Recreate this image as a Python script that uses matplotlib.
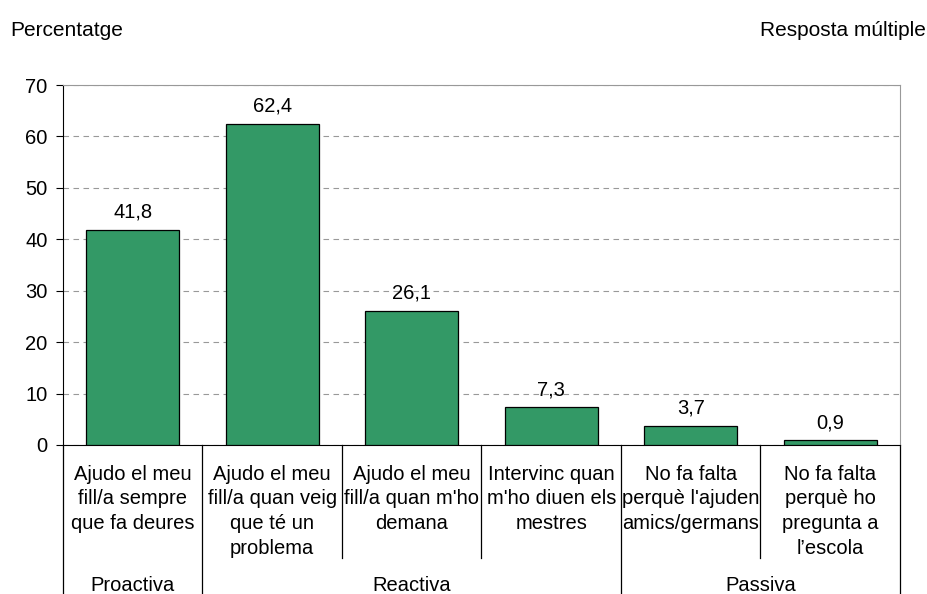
import matplotlib
matplotlib.use('Agg')
import matplotlib.pyplot as plt
import matplotlib.transforms as mtransforms
import numpy as np

plt.rcParams['font.family'] = ['Liberation Sans', 'DejaVu Sans']

CATEGORIES = [
    'Ajudo el meu\nfill/a sempre\nque fa deures',
    'Ajudo el meu\nfill/a quan veig\nque té un\nproblema',
    'Ajudo el meu\nfill/a quan m\'ho\ndemana',
    'Intervinc quan\nm\'ho diuen els\nmestres',
    'No fa falta\nperquè l\'ajuden\namics/germans',
    'No fa falta\nperquè ho\npregunta a\nl’escola',
]
VALUES = [41.8, 62.4, 26.1, 7.3, 3.7, 0.9]
GROUPS = ['Proactiva', 'Reactiva', 'Passiva']
GROUP_SIZES = [1, 3, 2]

BAR_COLOR = '#339966'
FS = 14.5

fig = plt.figure(figsize=(9.28, 5.94), dpi=100)
ax = fig.add_axes([63 / 928, 1 - 445 / 594, (900 - 63) / 928, 360 / 594])

x = np.arange(len(VALUES))
bars = ax.bar(x, VALUES, width=0.67, color=BAR_COLOR, edgecolor='black', linewidth=0.9, zorder=3)
for bar, v in zip(bars, VALUES):
    ax.annotate(f'{v:.1f}'.replace('.', ','), (bar.get_x() + bar.get_width() / 2, v),
                xytext=(0, 6), textcoords='offset points', ha='center', va='bottom', fontsize=FS)

ax.set_xlim(-0.5, len(VALUES) - 0.5)
ax.set_ylim(0, 70)
ax.set_yticks(range(0, 71, 10))
ax.tick_params(axis='y', labelsize=FS, length=5, direction='out', width=0.8, pad=6)
ax.set_xticks([])
ax.yaxis.grid(True, linestyle=(0, (5, 4)), color='#999999', linewidth=0.8, zorder=0)

for s in ['top', 'right']:
    ax.spines[s].set_color('#999999')
ax.spines['left'].set_color('black')
ax.spines['bottom'].set_color('black')

# category labels and separators below the axis
trans = mtransforms.blended_transform_factory(ax.transData, ax.transAxes)
for i, lab in enumerate(CATEGORIES):
    ax.text(i, -0.055, lab, transform=trans, ha='center', va='top', fontsize=FS, linespacing=1.38)

group_edges = np.cumsum([0] + GROUP_SIZES) - 0.5
for k in range(len(VALUES) + 1):
    xe = k - 0.5
    bottom = -0.42 if xe in group_edges else -0.314
    ax.plot([xe, xe], [0, bottom], transform=trans, color='black', linewidth=0.9, clip_on=False)

for g, lo, hi in zip(GROUPS, group_edges[:-1], group_edges[1:]):
    ax.text((lo + hi) / 2, -0.39, g, transform=trans, ha='center', va='center', fontsize=FS)

fig.text(10 / 928, 1 - 30 / 594, 'Percentatge', ha='left', va='center', fontsize=15)
fig.text(926 / 928, 1 - 30 / 594, 'Resposta múltiple', ha='right', va='center', fontsize=15)

fig.savefig('out.png', dpi=100)
